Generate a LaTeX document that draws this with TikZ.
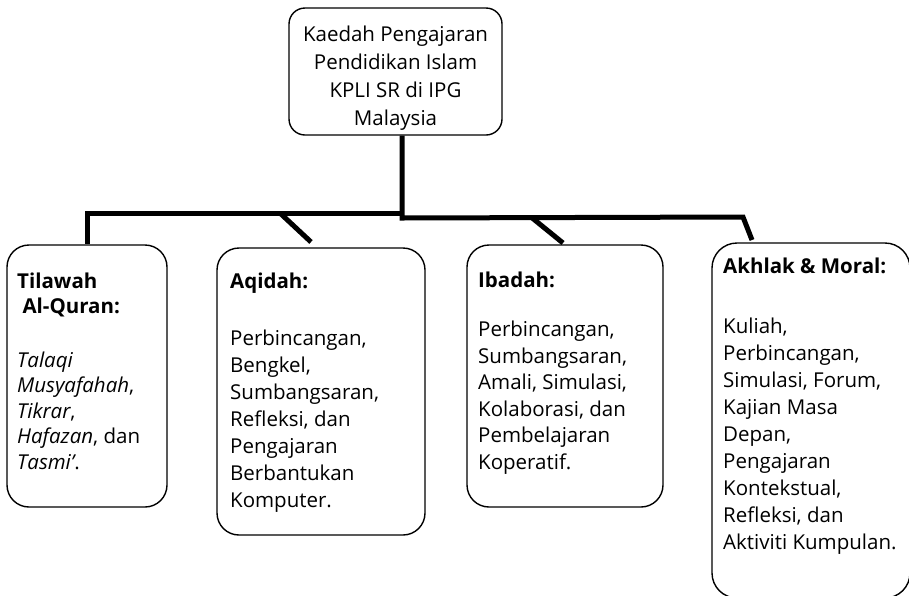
\documentclass[tikz,border=0pt]{standalone}
\usepackage{fontspec}
\setmainfont{Open Sans}
\begin{document}
\begin{tikzpicture}[x=1pt,y=1pt,
  box/.style={draw,line width=1.4pt,rounded corners=22pt,inner sep=0pt},
  txt/.style={anchor=north west,inner sep=0pt,align=left,font=\fontsize{20.5}{26.5}\selectfont},
  link/.style={line width=5pt}]
\useasboundingbox (0,0) rectangle (909,-595);
\node[box,rounded corners=16pt,minimum width=213pt,minimum height=127pt] (top) at (395.5,-71.5) {};
\node[align=center,inner sep=0pt,font=\fontsize{20.5}{28}\selectfont] (toptxt) at (395.5,-78.5)
  {Kaedah Pengajaran\\Pendidikan Islam\\KPLI SR di IPG\\Malaysia};
\node[box,minimum width=160pt,minimum height=262pt] (tilawah) at (87,-376) {};
\node[box,minimum width=208pt,minimum height=287pt] (aqidah) at (321,-391.5) {};
\node[box,minimum width=196pt,minimum height=262pt] (ibadah) at (565,-376) {};
\node[box,rounded corners=25pt,minimum width=198pt,minimum height=355pt] (akhlak) at (811,-420.5) {};
\node[txt,font=\fontsize{20.5}{25.5}\selectfont] (tilawahtxt) at (17,-272.4) {\textbf{Tilawah}\\\textbf{\ Al-Quran:}\\[28pt]
  \textit{Talaqi}\\\textit{Musyafahah}, \\\textit{Tikrar},\\\textit{Hafazan}, dan\\\textit{Tasmi’}.};
\node[txt,font=\fontsize{20.5}{27}\selectfont] (aqidahtxt) at (230,-272.4) {\textbf{Aqidah:}\\[30pt]
  Perbincangan,\\Bengkel,\\Sumbangsaran,\\Refleksi, dan\\Pengajaran\\Berbantukan\\Komputer.};
\node[txt] (ibadahtxt) at (478,-271.4) {\textbf{Ibadah:}\\[23pt]
  Perbincangan,\\Sumbangsaran,\\Amali, Simulasi,\\Kolaborasi, dan\\Pembelajaran\\Koperatif.};
\node[txt,font=\fontsize{20.5}{27}\selectfont] (akhlaktxt) at (723,-258) {\textbf{Akhlak \& Moral:}\\[33pt]
  Kuliah,\\Perbincangan,\\Simulasi, Forum,\\Kajian Masa\\Depan,\\Pengajaran\\Kontekstual,\\Refleksi, dan\\Aktiviti Kumpulan.};
\coordinate (hubL) at (402,-213);
\coordinate (hubR) at (402,-218);
\coordinate (bendR) at (743,-217);
\coordinate (akhlakin) at (752,-240);
\coordinate (aqidahout) at (281,-214);
\coordinate (aqidahin) at (311,-242);
\coordinate (ibadahout) at (531,-217);
\coordinate (ibadahin) at (563,-243);
\draw[link] (hubR |- top.south) -- (hubR) -- (bendR) -- (akhlakin);
\draw[link] (hubL) -| (tilawah.north);
\draw[link] (aqidahout) -- (aqidahin);
\draw[link] (ibadahout) -- (ibadahin);
\end{tikzpicture}
\end{document}
